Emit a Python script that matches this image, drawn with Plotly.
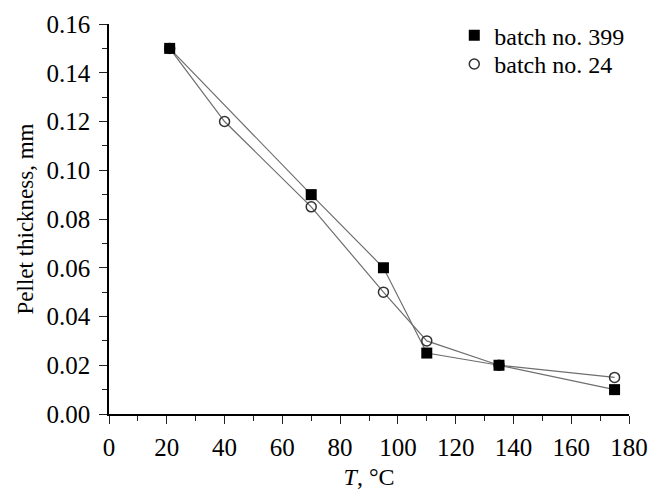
import plotly.graph_objects as go

# Data
t_399 = [21, 70, 95, 110, 135, 175]
thick_399 = [0.150, 0.090, 0.060, 0.025, 0.020, 0.010]

t_24 = [21, 40, 70, 95, 110, 135, 175]
thick_24 = [0.150, 0.120, 0.085, 0.050, 0.030, 0.020, 0.015]

name_399 = "batch no. 399"
name_24 = "batch no. 24"

x_ticks = list(range(0, 181, 20))
y_ticks = [0.00, 0.02, 0.04, 0.06, 0.08, 0.10, 0.12, 0.14, 0.16]

FONT = "Liberation Serif, Times New Roman, serif"
LINE_COLOR = "#6e6e6e"

fig = go.Figure()

# connecting lines (no legend)
fig.add_trace(go.Scatter(x=t_24, y=thick_24, mode="lines",
                         line=dict(color=LINE_COLOR, width=1.2),
                         showlegend=False, hoverinfo="skip"))
fig.add_trace(go.Scatter(x=t_399, y=thick_399, mode="lines",
                         line=dict(color=LINE_COLOR, width=1.2),
                         showlegend=False, hoverinfo="skip"))

# markers with legend entries
fig.add_trace(go.Scatter(x=t_24, y=thick_24, mode="markers", name=name_24,
                         marker=dict(symbol="circle-open", size=10,
                                     color="#333333",
                                     line=dict(color="#333333", width=1.5)),
                         legend="legend2"))
fig.add_trace(go.Scatter(x=t_399, y=thick_399, mode="markers", name=name_399,
                         marker=dict(symbol="square", size=11, color="black",
                                     line=dict(color="black", width=0)),
                         legend="legend"))

axis_common = dict(
    showline=True, linecolor="black", linewidth=1.5,
    ticks="outside", ticklen=8, tickwidth=1.3, tickcolor="#222222",
    showgrid=False, zeroline=False, mirror=False, automargin=False,
    tickfont=dict(family=FONT, size=25, color="black"),
)

fig.update_xaxes(
    range=[0, 180], tickvals=x_ticks,
    minor=dict(ticks="outside", ticklen=5, tickwidth=1.3, tickcolor="#222222", dtick=10),
    title=dict(text="<i>T</i>, °C", font=dict(family=FONT, size=24, color="black"), standoff=10),
    ticklabelstandoff=2,
    **axis_common,
)
fig.update_yaxes(
    range=[0, 0.16], tickvals=y_ticks, tickformat=".2f",
    minor=dict(ticks="outside", ticklen=5, tickwidth=1.3, tickcolor="#222222", dtick=0.01),
    title=dict(text="Pellet thickness, mm", font=dict(family=FONT, size=23, color="black"), standoff=6),
    ticklabelstandoff=4,
    **axis_common,
)

legend_common = dict(xanchor="left", yanchor="top", bgcolor="rgba(0,0,0,0)",
                     font=dict(family=FONT, size=24, color="black"),
                     itemsizing="trace")

fig.update_layout(
    width=649, height=490,
    margin=dict(l=108.5, r=19.7, t=24, b=76),
    plot_bgcolor="white", paper_bgcolor="white",
    font=dict(family=FONT, size=24, color="black"),
    legend=dict(x=0.664, y=1.028, **legend_common),
    legend2=dict(x=0.664, y=0.954, **legend_common),
)

# remove the default page margin/scrollbars so the figure fills the window exactly
fig.write_html(
    "out.html",
    config={"displayModeBar": False},
    post_script="document.body.style.margin='0px';document.body.style.overflow='hidden';",
)
